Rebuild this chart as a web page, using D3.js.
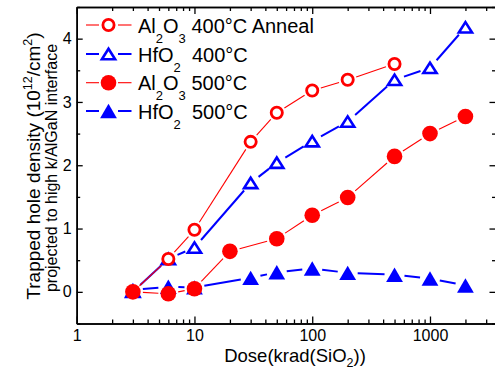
<!DOCTYPE html>
<html>
<head>
<meta charset="utf-8">
<script src="https://cdn.jsdelivr.net/npm/d3@7"></script>
<style>
  html, body { margin: 0; padding: 0; background: #fff; }
  svg { display: block; font-family: "Liberation Sans", Arial, sans-serif; }
  text { white-space: pre; }
</style>
</head>
<body>
<svg id="chart" width="495" height="370"></svg>
<script>
// Dose points (krad(SiO2)) and trapped hole density (1e12/cm^2) per sample
const al400Dose = [3, 6, 10, 30, 50, 100, 200, 500];
const al400Val  = [0.0, 0.52, 0.98, 2.37, 2.83, 3.18, 3.35, 3.60];

const hf400Dose = [3, 6, 10, 30, 50, 100, 200, 500, 1000, 2000];
const hf400Val  = [0.0, 0.52, 0.70, 1.72, 2.04, 2.38, 2.69, 3.35, 3.54, 4.18];

const al500Dose = [3, 6, 10, 20, 50, 100, 200, 500, 1000, 2000];
const al500Val  = [0.0, -0.03, 0.05, 0.64, 0.84, 1.21, 1.49, 2.14, 2.50, 2.77];

const hf500Dose = [3, 6, 10, 30, 50, 100, 200, 500, 1000, 2000];
const hf500Val  = [0.03, 0.08, 0.07, 0.22, 0.31, 0.37, 0.30, 0.27, 0.21, 0.10];

const xMajorTicks = [1, 10, 100, 1000];
const yMajorTicks = [0, 1, 2, 3, 4];

const svg = d3.select("#chart");
const L = 76.7, R = 495.5, T = 7, B = 323.5;

const x = d3.scaleLog().domain([1, 3600]).range([L, R]);
const y = d3.scaleLinear().domain([-0.5, 4.5]).range([B, T]);

const xMinor = [];
for (let p = 0; p < 4; p++) for (let k = 2; k <= 9; k++) {
  const v = k * Math.pow(10, p);
  if (v <= 3600) xMinor.push(v);
}
const yMinor = d3.range(-0.5, 4.6, 1);

const fontTick = 16;

// ---- axes (ticks point inward on all four sides) ----
const axes = svg.append("g").attr("class", "axes");

function styleAxis(g) {
  g.selectAll("path.domain").attr("stroke", "#000").attr("stroke-width", 1.6);
  g.selectAll(".tick line").attr("stroke", "#000").attr("stroke-width", 1.3);
  g.selectAll("text").attr("font-size", fontTick).attr("fill", "#000")
    .attr("font-family", "'Liberation Sans', Arial, sans-serif");
}

axes.append("g").attr("transform", `translate(0,${B})`)
  .call(d3.axisBottom(x).tickValues(xMajorTicks).tickFormat(d3.format("d"))
    .tickSizeInner(-7).tickSizeOuter(0).tickPadding(6))
  .call(styleAxis);
axes.append("g").attr("transform", `translate(0,${B})`)
  .call(d3.axisBottom(x).tickValues(xMinor).tickFormat("").tickSizeInner(-4).tickSizeOuter(0))
  .call(styleAxis);

axes.append("g").attr("transform", `translate(0,${T})`)
  .call(d3.axisTop(x).tickValues(xMajorTicks).tickFormat("").tickSizeInner(-7).tickSizeOuter(0))
  .call(styleAxis);
axes.append("g").attr("transform", `translate(0,${T})`)
  .call(d3.axisTop(x).tickValues(xMinor).tickFormat("").tickSizeInner(-4).tickSizeOuter(0))
  .call(styleAxis);

axes.append("g").attr("transform", `translate(${L},0)`)
  .call(d3.axisLeft(y).tickValues(yMajorTicks).tickFormat(d3.format("d"))
    .tickSizeInner(-6).tickSizeOuter(0).tickPadding(5))
  .call(styleAxis);
axes.append("g").attr("transform", `translate(${L},0)`)
  .call(d3.axisLeft(y).tickValues(yMinor).tickFormat("").tickSizeInner(-3.5).tickSizeOuter(0))
  .call(styleAxis);

axes.append("g").attr("transform", `translate(${R},0)`)
  .call(d3.axisRight(y).tickValues(yMajorTicks).tickFormat("").tickSizeInner(-6).tickSizeOuter(0))
  .call(styleAxis);
axes.append("g").attr("transform", `translate(${R},0)`)
  .call(d3.axisRight(y).tickValues(yMinor).tickFormat("").tickSizeInner(-3.5).tickSizeOuter(0))
  .call(styleAxis);

// ---- marker shapes ----
const RED = "#ff0000", BLUE = "#0000ff";

function drawMarker(g, kind, cx, cy) {
  if (kind === "openCircle") {
    g.append("circle").attr("cx", cx).attr("cy", cy).attr("r", 5.6)
      .attr("fill", "#fff").attr("stroke", RED).attr("stroke-width", 2.8);
  } else if (kind === "fillCircle") {
    g.append("circle").attr("cx", cx).attr("cy", cy).attr("r", 7.8).attr("fill", RED);
  } else if (kind === "openTri") {
    const w = 6.6, h = 5.2;
    g.append("path")
      .attr("d", `M${cx - w},${cy + h}L${cx + w},${cy + h}L${cx},${cy - h}Z`)
      .attr("fill", "#fff").attr("stroke", BLUE).attr("stroke-width", 2.6)
      .attr("stroke-linejoin", "miter");
  } else if (kind === "fillTri") {
    const w = 8.4, h = 7.2;
    g.append("path")
      .attr("d", `M${cx - w},${cy + h}L${cx + w},${cy + h}L${cx},${cy - h}Z`)
      .attr("fill", BLUE);
  }
}

// connecting segments are shortened so they stop just short of each marker
function drawSeries(doses, vals, color, width, kind, gap) {
  const g = svg.append("g");
  const pts = doses.map((d, i) => [x(d), y(vals[i])]);
  for (let i = 0; i < pts.length - 1; i++) {
    const [x0, y0] = pts[i], [x1, y1] = pts[i + 1];
    const dx = x1 - x0, dy = y1 - y0, len = Math.hypot(dx, dy);
    if (len <= 2 * gap) continue;
    const ux = dx / len, uy = dy / len;
    g.append("line")
      .attr("x1", x0 + ux * gap).attr("y1", y0 + uy * gap)
      .attr("x2", x1 - ux * gap).attr("y2", y1 - uy * gap)
      .attr("stroke", color).attr("stroke-width", width);
  }
  pts.forEach(([px, py]) => drawMarker(g, kind, px, py));
}

drawSeries(hf400Dose, hf400Val, BLUE, 2, "openTri", 10);
drawSeries(hf500Dose, hf500Val, BLUE, 2, "fillTri", 10);
drawSeries(al400Dose, al400Val, RED, 1.1, "openCircle", 9);
drawSeries(al500Dose, al500Val, RED, 1.1, "fillCircle", 10);

// ---- legend ----
const legendRows = [
  { kind: "openCircle", color: RED, width: 1.1, parts: [["Al"], ["2", "sub"], ["O"], ["3", "sub"], [" 400°C Anneal"]] },
  { kind: "openTri", color: BLUE, width: 2, parts: [["HfO"], ["2", "sub"], ["  400°C"]] },
  { kind: "fillCircle", color: RED, width: 1.1, parts: [["Al"], ["2", "sub"], ["O"], ["3", "sub"], [" 500°C"]] },
  { kind: "fillTri", color: BLUE, width: 2, parts: [["HfO"], ["2", "sub"], ["  500°C"]] }
];
const legY = [25, 54, 82.7, 111];
const leg = svg.append("g");
legendRows.forEach((row, i) => {
  const cy = legY[i];
  leg.append("line").attr("x1", 86).attr("x2", 99).attr("y1", cy).attr("y2", cy)
    .attr("stroke", row.color).attr("stroke-width", row.width);
  leg.append("line").attr("x1", 118).attr("x2", 131.5).attr("y1", cy).attr("y2", cy)
    .attr("stroke", row.color).attr("stroke-width", row.width);
  drawMarker(leg, row.kind, 108.5, cy);
  const t = leg.append("text").attr("x", 138).attr("y", cy + 7.6)
    .attr("font-size", 20).attr("fill", "#000");
  let shifted = 0;
  row.parts.forEach(([s, mode]) => {
    const ts = t.append("tspan").text(s);
    if (mode === "sub") {
      ts.attr("font-size", 13).attr("dy", 10 - shifted); shifted = 10;
    } else {
      if (shifted) ts.attr("dy", -shifted);
      shifted = 0;
    }
  });
});

// ---- axis titles ----
const xt = svg.append("text").attr("x", 295).attr("y", 361.5)
  .attr("text-anchor", "middle").attr("font-size", 18.5).attr("fill", "#000");
xt.append("tspan").text("Dose(krad(SiO");
xt.append("tspan").text("2").attr("font-size", 12.5).attr("dy", 5);
xt.append("tspan").text("))").attr("dy", -5);

const yt = svg.append("text").attr("transform", "translate(39.5,166) rotate(-90)")
  .attr("text-anchor", "middle").attr("font-size", 19).attr("fill", "#000");
yt.append("tspan").text("Trapped hole density (10");
yt.append("tspan").text("12").attr("font-size", 12.5).attr("dy", -8);
yt.append("tspan").text("/cm").attr("dy", 8);
yt.append("tspan").text("2").attr("font-size", 12.5).attr("dy", -8);
yt.append("tspan").text(")").attr("dy", 8);

svg.append("text").attr("transform", "translate(56.5,168) rotate(-90)")
  .attr("text-anchor", "middle").attr("font-size", 16).attr("fill", "#000")
  .text("projected to high k/AlGaN interface");
</script>
</body>
</html>
